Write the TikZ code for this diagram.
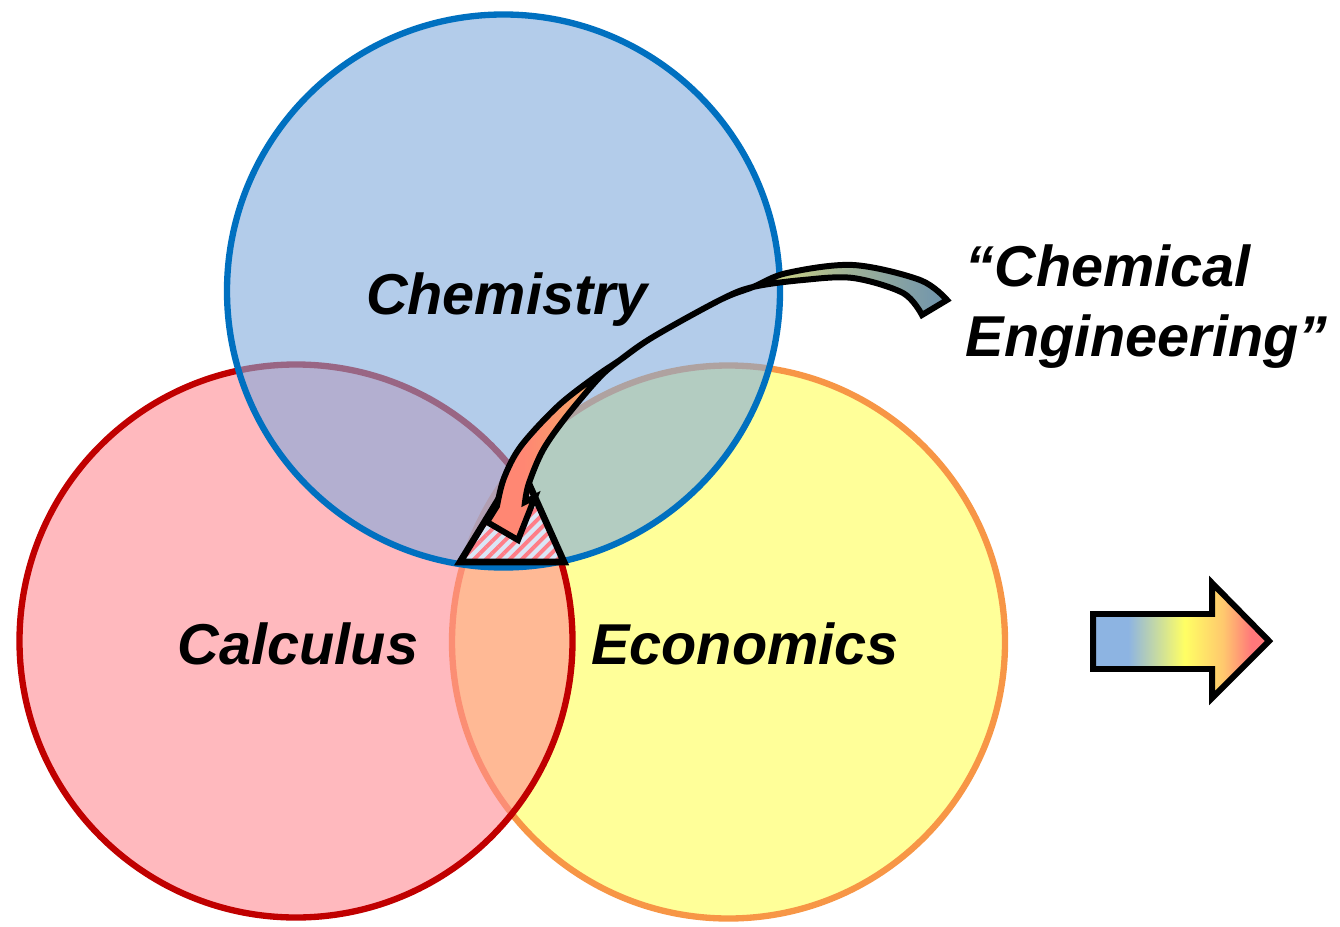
\documentclass[tikz,border=0pt]{standalone}
\usepackage{fontspec}
\setmainfont{Liberation Sans}
\usetikzlibrary{patterns.meta}
\definecolor{chemline}{RGB}{0, 112, 192}
\definecolor{chemfill}{RGB}{128, 170, 220}
\definecolor{calcline}{RGB}{192, 0, 0}
\definecolor{calcfill}{RGB}{255, 138, 147}
\definecolor{econline}{RGB}{247, 150, 70}
\definecolor{econfill}{RGB}{255, 255, 85}
\definecolor{trifill}{RGB}{218, 230, 246}
\definecolor{tristripe}{RGB}{255, 125, 135}
\definecolor{arrsalmon}{RGB}{255, 135, 115}
\definecolor{arrorange}{RGB}{245, 170, 100}
\definecolor{arrolive}{RGB}{210, 215, 130}
\definecolor{arrsage}{RGB}{160, 178, 150}
\definecolor{arrslate}{RGB}{115, 150, 172}
\definecolor{rblue}{RGB}{141, 180, 226}
\definecolor{ryellow}{RGB}{255, 255, 100}
\definecolor{rorange}{RGB}{255, 200, 110}
\definecolor{rpink}{RGB}{255, 120, 122}
\pgfdeclarehorizontalshading{bendshade}{100bp}{color(0bp)=(arrsalmon); color(29bp)=(arrsalmon); color(37bp)=(arrorange); color(55bp)=(arrolive); color(64bp)=(arrsage); color(74bp)=(arrslate); color(100bp)=(arrslate)}
\pgfdeclarehorizontalshading{rightshade}{100bp}{color(0bp)=(rblue); color(35bp)=(rblue); color(51bp)=(ryellow); color(62bp)=(rorange); color(70bp)=(rpink); color(100bp)=(rpink)}

\begin{document}
\begin{tikzpicture}[
  venn/.style={circle, line width=1.8pt, fill opacity=0.6, minimum size=5.53cm, inner sep=0pt},
  subject/.style={font=\fontsize{16.4}{19.9}\selectfont\bfseries\itshape, anchor=base, inner sep=0pt},
  blockarrow/.style={draw=black, line width=1.7pt, line join=miter, miter limit=3}
]
  \useasboundingbox (0, 0) rectangle (13.4, 9.26);

  % Three subject circles
  \node[venn, draw=econline, fill=econfill] (econ) at (7.285, 2.84) {};
  \node[venn, draw=calcline, fill=calcfill] (calc) at (2.96, 2.85) {};
  \node[venn, draw=chemline, fill=chemfill] (chem) at (5.035, 6.35) {};

  \node[subject] (chemlabel) at (5.07, 6.12) {Chemistry};
  \node[subject] (calclabel) at (2.98, 2.62) {Calculus};
  \node[subject] (econlabel) at (7.45, 2.62) {Economics};

  % Overlap triangle
  \coordinate (triL) at (4.60, 3.64);
  \coordinate (triR) at (5.64, 3.64);
  \coordinate (triT) at (5.20, 4.62);
  \fill[trifill] (triL) -- (triR) -- (triT) -- cycle;
  \fill[pattern={Lines[angle=45, distance=2.4pt, line width=1.1pt]}, pattern color=tristripe]
    (triL) -- (triR) -- (triT) -- cycle;
  \draw[line width=1.9pt, line join=miter] (triL) -- (triR) -- (triT) -- cycle;

  % Curved arrow into the triangle
  \path[blockarrow, shading=bendshade]
    plot[smooth, tension=0.55] coordinates {(9.47, 6.26) (9.20, 6.46) (8.53, 6.61) (7.87, 6.53)
      (7.53, 6.39) (7.20, 6.26) (6.53, 5.89) (6.20, 5.66) (5.95, 5.49) (5.58, 5.20)
      (5.21, 4.80) (5.04, 4.48) (4.97, 4.20)}
    -- (4.87, 4.04) -- (5.18, 3.86) -- (5.35, 4.29) --
    plot[smooth, tension=0.55] coordinates {(5.25, 4.24) (5.29, 4.43) (5.43, 4.76) (5.66, 5.09)
      (5.99, 5.48) (6.20, 5.66) (6.53, 5.89) (7.20, 6.26) (7.53, 6.39) (8.03, 6.46)
      (8.53, 6.48) (9.03, 6.33) (9.22, 6.11)}
    -- cycle;

  \node[font=\fontsize{16.4}{19.9}\selectfont\bfseries\itshape, align=left, anchor=north west, inner sep=0pt]
    (cheng) at (9.65, 6.82) {“Chemical\\Engineering”};

  % Arrow on the right
  \path[blockarrow, shading=rightshade]
    (10.93, 3.12) -- (12.12, 3.12) -- (12.12, 3.43) -- (12.69, 2.85) -- (12.12, 2.28)
    -- (12.12, 2.57) -- (10.93, 2.57) -- cycle;
\end{tikzpicture}
\end{document}
